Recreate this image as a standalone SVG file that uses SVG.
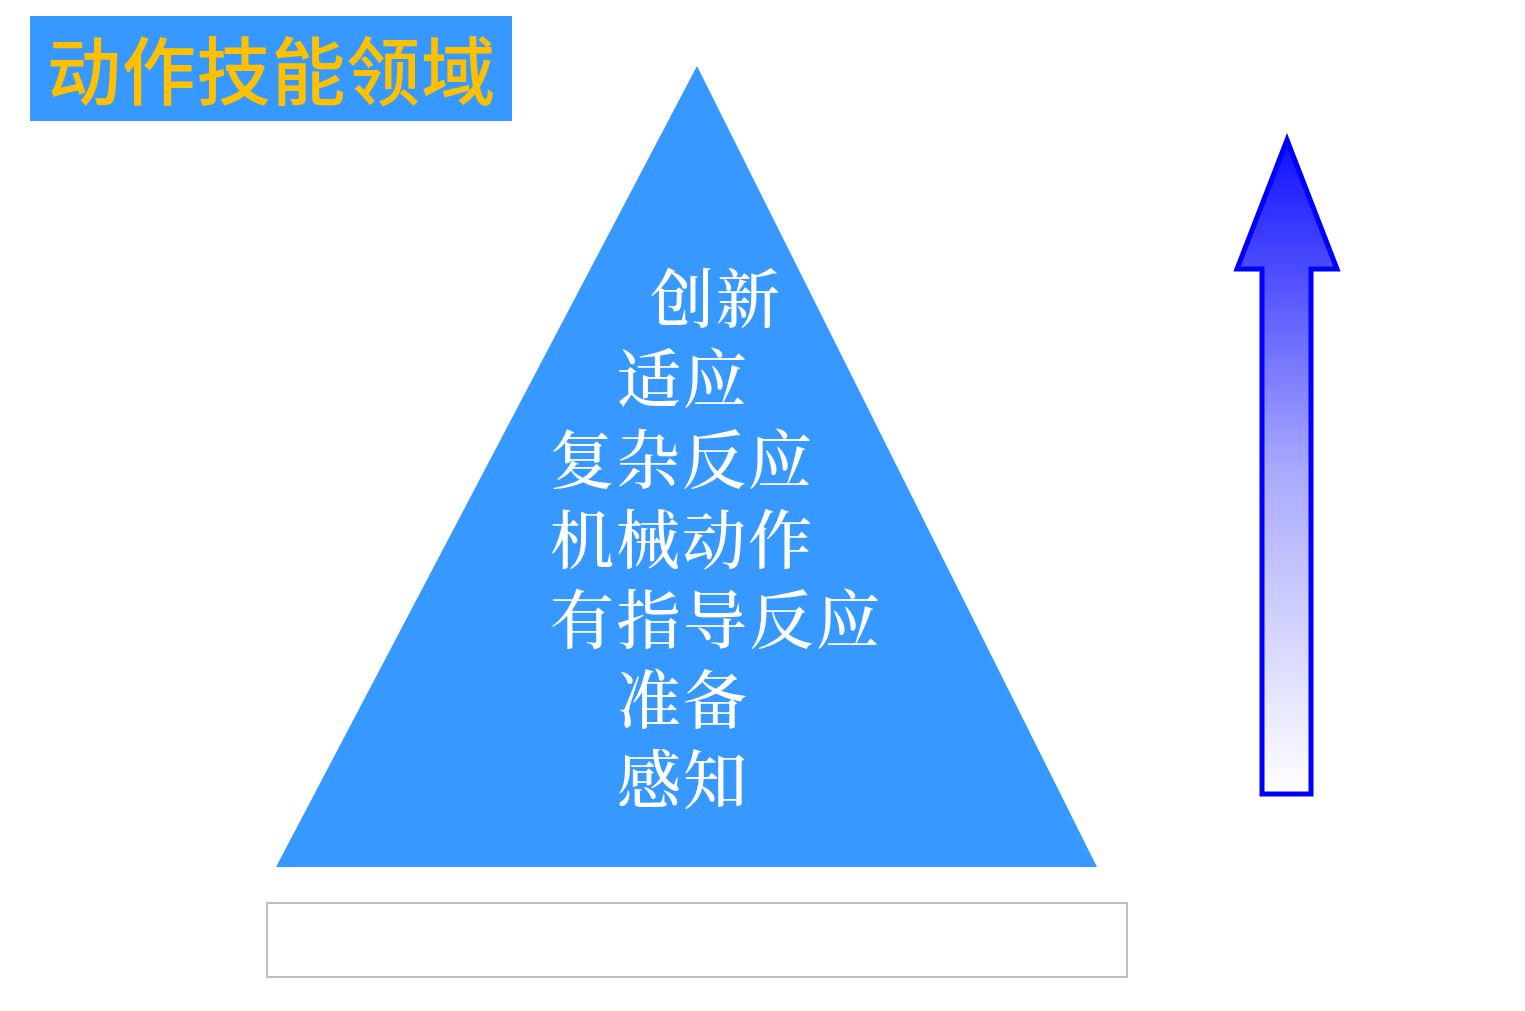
<svg xmlns="http://www.w3.org/2000/svg" width="1525" height="1011" viewBox="0 0 1525 1011">
<style>
.title{font-family:"Noto Sans CJK SC","Noto Sans",sans-serif;font-size:74px;font-weight:500;fill:#FFC000}
.lbl{font-family:"Noto Serif CJK SC","Liberation Serif","Noto Sans CJK SC",serif;font-size:64px;font-weight:500;fill:#FFFFFF}
</style>
<defs>
<linearGradient id="ag" x1="0" y1="0" x2="0" y2="1">
<stop offset="0" stop-color="#1010FF"/>
<stop offset="0.5" stop-color="#A8A8FF"/>
<stop offset="1" stop-color="#FFFFFF"/>
</linearGradient>
</defs>
<rect width="1525" height="1011" fill="#FFFFFF"/>
<g id="title">
<rect x="30" y="16" width="482" height="105" fill="#3799FF"/>
<text class="title" x="47" y="99" textLength="448">动作技能领域</text>
</g>
<g id="pyramid">
<polygon points="697,66 1097,867 276,867" fill="#3799FF"/>
<text class="lbl" x="650" y="322" textLength="130">创新</text>
<text class="lbl" x="617" y="402" textLength="130">适应</text>
<text class="lbl" x="550" y="483" textLength="262">复杂反应</text>
<text class="lbl" x="550" y="563" textLength="262">机械动作</text>
<text class="lbl" x="550" y="643" textLength="330">有指导反应</text>
<text class="lbl" x="617" y="723" textLength="130">准备</text>
<text class="lbl" x="617" y="803" textLength="130">感知</text>
</g>
<g id="arrow">
<polygon points="1287,140 1337,269 1311,269 1311,794 1262,794 1262,269 1237,269" fill="url(#ag)" stroke="#0000FF" stroke-width="5"/>
</g>
<g id="base-box">
<rect x="267" y="903" width="860" height="74" fill="#FFFFFF" stroke="#BFBFBF" stroke-width="2"/>
</g>
<g id="connectors"></g>
</svg>
